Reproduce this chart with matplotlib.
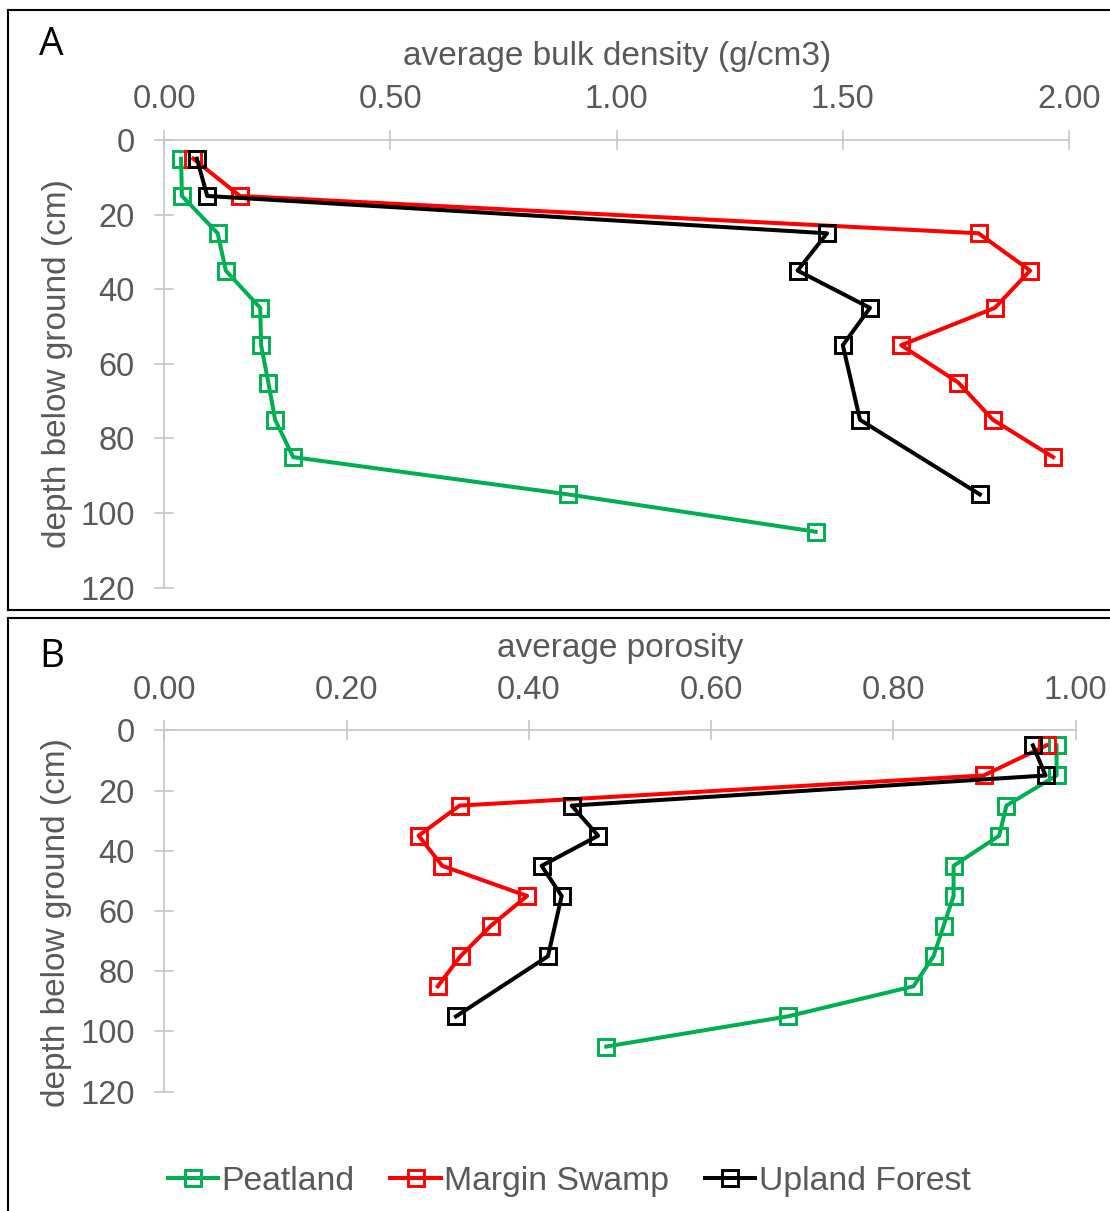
import matplotlib
matplotlib.use("Agg")
import matplotlib.pyplot as plt
from matplotlib.lines import Line2D
from matplotlib.ticker import FormatStrFormatter

plt.rcParams['font.family'] = ['Liberation Sans', 'DejaVu Sans']

# ---- data ----
depth_peat = [5, 15, 25, 35, 45, 55, 65, 75, 85, 95, 105]
depth_swamp = [5, 15, 25, 35, 45, 55, 65, 75, 85]
depth_upland = [5, 15, 25, 35, 45, 55, 75, 95]

bd_peat = [0.037, 0.039, 0.118, 0.136, 0.212, 0.214, 0.230, 0.245, 0.285, 0.893, 1.440]
bd_swamp = [0.064, 0.167, 1.800, 1.914, 1.836, 1.629, 1.755, 1.832, 1.965]
bd_upland = [0.072, 0.095, 1.465, 1.400, 1.560, 1.500, 1.538, 1.803]

por_peat = [0.979, 0.979, 0.924, 0.916, 0.866, 0.866, 0.855, 0.844, 0.822, 0.684, 0.485]
por_swamp = [0.968, 0.899, 0.324, 0.279, 0.305, 0.398, 0.358, 0.325, 0.300]
por_upland = [0.953, 0.967, 0.447, 0.476, 0.414, 0.436, 0.421, 0.320]

series_names = ["Peatland", "Margin Swamp", "Upland Forest"]
colors = ["#00B050", "#FF0000", "#000000"]
yticks = [0, 20, 40, 60, 80, 100, 120]

GRAY = "#595959"
AXC = "#C6C6C6"

W, H = 1110, 1211
fig = plt.figure(figsize=(W / 100, H / 100), dpi=100)

def px_rect(x0, y0, x1, y1):
    return [x0 / W, 1 - y1 / H, (x1 - x0) / W, (y1 - y0) / H]

axA = fig.add_axes(px_rect(164.3, 140, 1069, 587.7))
axB = fig.add_axes(px_rect(164.3, 730.3, 1075.7, 1091.7))

def style(ax, xmax, xstep, xlabel, title_y, ylab_y):
    ax.set_xlim(0, xmax)
    ax.set_ylim(120, 0)
    ax.xaxis.tick_top()
    ax.set_xticks([i * xstep for i in range(int(round(xmax / xstep)) + 1)])
    ax.set_yticks(yticks)
    ax.xaxis.set_major_formatter(FormatStrFormatter('%.2f'))
    for s in ['bottom', 'right']:
        ax.spines[s].set_visible(False)
    for s in ['top', 'left']:
        ax.spines[s].set_color(AXC)
        ax.spines[s].set_linewidth(1.2)
    ax.tick_params(axis='both', direction='inout', length=14.5, width=1.2,
                   color=AXC, labelcolor=GRAY, labelsize=23.5)
    ax.tick_params(axis='x', pad=10.5)
    ax.tick_params(axis='y', pad=14)
    ax.set_xlabel(xlabel, fontsize=24, color=GRAY)
    ax.xaxis.set_label_position('top')
    ax.xaxis.set_label_coords(0.5, title_y)
    ax.xaxis.label.set_va('center')
    ax.set_ylabel("depth below ground (cm)", fontsize=24, color=GRAY)
    ax.yaxis.set_label_coords(-0.118, ylab_y)
    ax.yaxis.label.set_va('center')

def plot_series(ax, xs_list):
    depths = [depth_peat, depth_swamp, depth_upland]
    for xs, d, c, n in zip(xs_list, depths, colors, series_names):
        ax.plot(xs, d, color=c, lw=2.9, marker='s', ms=11.5, mfc='none',
                mec=c, mew=2.1, clip_on=False, label=n, zorder=3)

plot_series(axA, [bd_peat, bd_swamp, bd_upland])
plot_series(axB, [por_peat, por_swamp, por_upland])
style(axA, 2.0, 0.5, "average bulk density (g/cm3)", (587.7 - 56) / 447.7, 0.5)
style(axB, 1.0, 0.2, "average porosity", (1091.7 - 649) / 361.4, 0.467)

fig.text(39 / W, 1 - 45 / H, "A", fontsize=28, family=['Open Sans', 'DejaVu Sans'],
         color='black', va='center', ha='left')
fig.text(39 / W, 1 - 657 / H, "B", fontsize=28, family=['Open Sans', 'DejaVu Sans'],
         color='black', va='center', ha='left')

handles, labels = axB.get_legend_handles_labels()
leg = fig.legend(handles, labels, loc='center', bbox_to_anchor=(569 / W, 1 - 1181.7 / H),
                 ncol=3, frameon=False, fontsize=24.3, handlelength=1.5,
                 handletextpad=0.1, columnspacing=1.05, borderaxespad=0)
for t in leg.get_texts():
    t.set_color(GRAY)

# panel borders
def fline(xs, ys):
    fig.add_artist(Line2D([x / W for x in xs], [1 - y / H for y in ys],
                          color='black', lw=1.5, transform=fig.transFigure))

fline([8, W + 5], [10, 10])
fline([8, 8], [10, 610])
fline([8, W + 5], [610, 610])
fline([8, W + 5], [618, 618])
fline([8, 8], [618, H + 5])

fig.savefig("out.png", dpi=100)
